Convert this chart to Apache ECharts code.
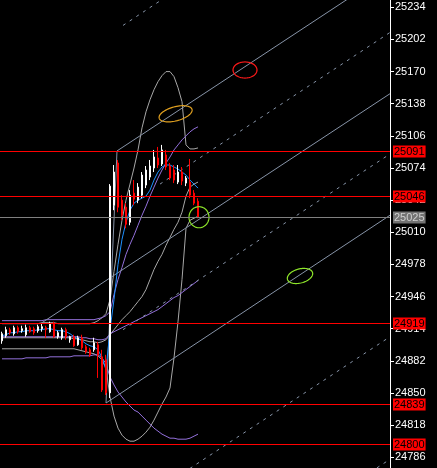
<!DOCTYPE html>
<html><head><meta charset="utf-8">
<script src="https://cdn.jsdelivr.net/npm/echarts@6/dist/echarts.min.js"></script>
<style>html,body{margin:0;padding:0;background:#000;}#c{width:437px;height:468px;}</style>
</head><body><div id="c"></div>
<script>
// ---- data ----
const yTicks = [24786,24818,24850,24882,24914,24946,24978,25010,25042,25074,25106,25138,25170,25202,25234];
const redLevels = [25091,25046,24919.4,24839,24799.6];
const bidLevel = 25025;

const candleOpen  = [24902,24907,24913,24909,24915,24912,24908,24915,24914,24912,24914,24915,24911,24919,24906,24905,24913,24903,24906,24898,24905,24896,24893,24893,24898,24886,24883,24850,25037,25079,25042,25035,25020,25049,25042,25047,25057,25065,25074,25084,25078,25087,25076,25072,25060,25070,25059,25060,25049,25041];
const candleClose = [24909,24913,24910,24915,24911,24914,24915,24911,24910,24916,24916,24913,24919,24906,24910,24913,24906,24906,24897,24905,24895,24891,24888,24900,24888,24853,24850,25056,25070,25035,25027,25018,25047,25043,25055,25067,25072,25076,25085,25077,25092,25075,25064,25062,25070,25061,25064,25047,25039,25025];
const candleLow   = [24899,24905,24908,24907,24909,24910,24906,24910,24908,24910,24911,24905,24910,24905,24904,24903,24903,24900,24896,24897,24893,24889,24886,24891,24865,24851,24848,24845,25032,25030,25022,25014,25017,25037,25039,25044,25054,25062,25070,25074,25076,25072,25062,25059,25058,25057,25056,25044,25037,25024];
const candleHigh  = [24911,24916,24915,24917,24917,24917,24918,24917,24916,24918,24919,24917,24921,24921,24912,24915,24915,24907,24908,24907,24908,24898,24895,24905,24901,24893,24888,25058,25077,25082,25047,25039,25052,25062,25059,25070,25076,25082,25092,25095,25097,25092,25079,25077,25077,25075,25066,25083,25052,25044];

const maBlue = [24907,24908,24910,24910,24911,24911,24912,24912,24912,24913,24913,24914,24914,24913,24912,24912,24911,24909,24906,24904,24902,24899,24897,24896,24893,24885,24873,24913,24943,24978,25003,25020,25032,25039,25042,25044,25046,25052,25062,25070,25075,25077,25077,25075,25073,25070,25067,25062,25058,25054];
const grayUpper = [24919,24919,24919,24919,24919,24919,24919,24919,24919,24919,24920,24920,24920,24920,24919,24919,24919,24919,24919,24919,24919,24919,24919,24920,24922,24925,24929,24943,24971,24998,25022,25042,25058,25074,25092,25114,25130,25142,25152,25160,25166,25170,25170,25165,25154,25140,25097,25093,25093,25094];
const grayMid = [24905,24905,24905,24905,24905,24905,24905,24905,24905,24905,24905,24905,24905,24905,24905,24905,24905,24905,24904,24904,24903,24902,24901,24901,24900,24901,24903,24908,24913,24918,24923,24927,24931,24936,24941,24946,24953,24963,24973,24981,24988,24997,25005,25013,25020,25030,25046,25055,25058,25060];
const grayLower = [24894,24894,24894,24894,24894,24894,24894,24894,24894,24894,24894,24894,24894,24894,24894,24894,24894,24894,24894,24893,24892,24891,24890,24889,24887,24883,24875,24846,24827,24815,24808,24804,24802,24802,24804,24807,24811,24816,24823,24831,24839,24846,24855,24885,24921,24963,25014,25022,25024,25026];
const purpleUpper = [24922,24922,24922,24922,24922,24922,24922,24922,24922,24922,24922,24923,24923,24923,24923,24923,24923,24923,24923,24923,24923,24923,24923,24923,24924,24925,24927,24931,24948,24963,24975,24988,24998,25007,25017,25027,25036,25046,25055,25064,25072,25079,25085,25092,25097,25102,25106,25110,25113,25115];
const purpleMid = [24906,24906,24906,24906,24906,24906,24906,24906,24906,24906,24906,24906,24906,24906,24906,24906,24906,24906,24906,24906,24905,24905,24904,24904,24903,24903,24904,24909,24911,24913,24915,24917,24919,24921,24923,24925,24927,24929,24931,24933,24936,24939,24942,24945,24947,24950,24953,24956,24959,24962];
const purpleLower = [24884,24884,24884,24884,24884,24884,24885,24885,24885,24885,24885,24885,24886,24886,24886,24886,24886,24886,24887,24887,24887,24887,24887,24888,24888,24885,24879,24866,24858,24851,24846,24841,24837,24833,24831,24827,24823,24819,24815,24812,24809,24807,24805,24805,24804,24804,24804,24805,24807,24809];

// pitchfork / channel lines: [barIndex, price] end points
const solidLines = [
  [[28.75,25091],[26,24840]],
  [[28.75,25091],[97,25270]],
  [[10,24920],[97,25148]],
  [[26,24840],[97,25027]]
];
const dashedLines = [
  [[39.5,25058],[97,25209]],
  [[30.25,24913],[97,25088]],
  [[30.25,25216],[97,25392]],
  [[30.25,24731],[97,24906]],
  [[30.25,24609],[97,24784]]
];
// ellipse objects: centre [barIndex, price], radius [bars, price]
const ellipseCenter = [[60.75,25171.6],[43.4,25128],[49.25,25025],[74.5,24966.5]];
const ellipseRadius = [[3,8],[4.25,7],[2.5,10.5],[3.25,7]];

// ---- styles ----
const ellipseColors = ['#ff1a1a','#e0a020','#8ee62a','#8ee62a'];
const ellipseTilt = [0,15,0,15];
const FONT = '11px "Liberation Sans"';

const candleData = candleOpen.map((o,i)=>[i,o,candleClose[i],candleLow[i],candleHigh[i]]);
const toXY = arr => arr.map((v,i)=>[i,v]);

function lineSeries(data,color,z,type){
  return {type:'line',data:data,showSymbol:false,symbol:'none',silent:true,animation:false,z:z,
    lineStyle:{color:color,width:1,type:type||'solid'},clip:true};
}

const series = [];
series.push(lineSeries(toXY(grayUpper),'#a8a8a8',2));
series.push(lineSeries(toXY(grayMid),'#a8a8a8',2));
series.push(lineSeries(toXY(grayLower),'#a8a8a8',2));
series.push(lineSeries(toXY(purpleUpper),'#9370db',2));
series.push(lineSeries(toXY(purpleMid),'#9370db',2));
series.push(lineSeries(toXY(purpleLower),'#9370db',2));
solidLines.forEach(l=>series.push(lineSeries(l,'#8794a8',3)));
dashedLines.forEach(l=>series.push(lineSeries(l,'#8794a8',3,[3,5])));
series.push(lineSeries(toXY(maBlue),'#1e90ff',4));
series.push({
  type:'candlestick', data:candleData, encode:{x:0,y:[1,2,3,4]}, barWidth:2, z:5, animation:false, silent:true,
  itemStyle:{color:'#ffffff',color0:'#ff0000',borderColor:'#ffffff',borderColor0:'#ff0000',borderWidth:1}
});
// horizontal price levels with right-hand price boxes
const levelData = redLevels.map(v=>[v,0]).concat([[bidLevel,1]]);
series.push({
  type:'custom', z:7, silent:true, animation:false, clip:false, encode:{y:0},
  data: levelData,
  renderItem:function(params,api){
    const cs = params.coordSys;
    const v = api.value(0);
    const gray = api.value(1)===1;
    const y = Math.round(api.coord([0,v])[1]) + 0.5;
    const x2 = cs.x + cs.width;
    return {type:'group',children:[
      {type:'line',shape:{x1:cs.x,y1:y,x2:x2,y2:y},style:{stroke:gray?'#808080':'#ff0000',lineWidth:1}},
      {type:'text',x:x2+3,y:y,style:{text:String(Math.round(v)),font:FONT,fill:gray?'#d0d0d0':'#000000',
        backgroundColor:gray?'#737373':'#ff0000',padding:[1,1,0,1],align:'left',verticalAlign:'middle'}}
    ]};
  }
});
series.push({
  type:'custom', z:6, silent:true, animation:false, encode:{x:0,y:1},
  data: ellipseCenter.map((c,k)=>[c[0],c[1],ellipseRadius[k][0],ellipseRadius[k][1]]),
  renderItem:function(params,api){
    const c = api.coord([api.value(0),api.value(1)]);
    const s = api.size([api.value(2),api.value(3)]);
    const k = params.dataIndex;
    const th = ellipseTilt[k]*Math.PI/180;
    const pts=[];
    for(let j=0;j<72;j++){
      const t=j/72*2*Math.PI, ex=s[0]*Math.cos(t), ey=s[1]*Math.sin(t);
      pts.push([c[0]+ex*Math.cos(th)+ey*Math.sin(th), c[1]-ex*Math.sin(th)+ey*Math.cos(th)]);
    }
    return {type:'polygon',shape:{points:pts},style:{fill:'none',stroke:ellipseColors[k],lineWidth:1.2}};
  }
});

const chart = echarts.init(document.getElementById('c'));
chart.setOption({
  backgroundColor:'#000',
  animation:false,
  grid:{left:0,right:47,top:0,bottom:0,containLabel:false,outerBoundsMode:'none'},
  xAxis:{type:'value',min:-0.5,max:97,show:false,splitLine:{show:false}},
  yAxis:{type:'value',position:'right',min:24775.3,max:25241.3,
    axisLine:{show:true,onZero:false,lineStyle:{color:'#ffffff',width:1}},
    axisTick:{show:true,inside:false,length:4,lineStyle:{color:'#ffffff',width:1},customValues:yTicks},
    axisLabel:{show:true,color:'#ffffff',fontSize:11,fontFamily:'Liberation Sans',margin:5,customValues:yTicks,formatter:v=>String(v)},
    splitLine:{show:false}},
  series:series
});
</script></body></html>
